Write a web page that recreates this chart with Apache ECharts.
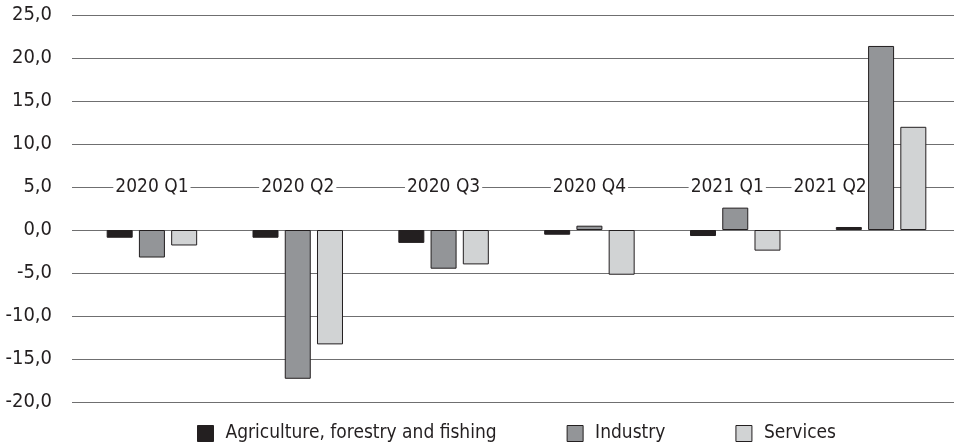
<!DOCTYPE html>
<html><head><meta charset="utf-8">
<script src="https://cdn.jsdelivr.net/npm/echarts@6/dist/echarts.min.js"></script>
<style>html,body{margin:0;padding:0;background:#fff}#c{width:954px;height:445px}</style>
</head><body><div id="c"></div>
<script>
const categories = ['2020 Q1','2020 Q2','2020 Q3','2020 Q4','2021 Q1','2021 Q2'];
const agriculture = [-0.9, -0.9, -1.5, -0.55, -0.7, 0.35];
const industry = [-3.2, -17.3, -4.5, 0.5, 2.6, 21.4];
const services = [-1.8, -13.3, -4.0, -5.2, -2.4, 12.0];
const seriesNames = ['Agriculture, forestry and fishing','Industry','Services'];
const yTicks = {min: -20, max: 25, interval: 5};
// leftward shift of category label (px) to avoid the bars, as in the original
const labelShift = [0, 0, 0, 0, 8, 51];

const FONT = '"DejaVu Sans Condensed","Liberation Sans",sans-serif';
const fmt = v => v.toFixed(1).replace('.', ',');
const chart = echarts.init(document.getElementById('c'));
const colors = ['#231f20','#939598','#d1d3d4'];
const mk = (name, data, i) => ({
  name, type: 'bar', data, xAxisIndex: 1, yAxisIndex: 1, z: 3,
  barWidth: 26, barGap: '24%',
  itemStyle: {color: colors[i], borderColor: '#231f20', borderWidth: 1},
  emphasis: {disabled: true}
});
const rich = {t: {fontSize: 19, color: '#231f20', fontFamily: FONT, backgroundColor: '#fff', padding: [1, 2]}};
labelShift.forEach((s, i) => { rich['s' + i] = {width: 2 * s, height: 1}; });
chart.setOption({
  animation: false,
  color: colors,
  textStyle: {fontFamily: FONT},
  grid: [
    {left: 72, right: 0, top: 15, bottom: 43},
    {left: 79, right: -3, top: 15, bottom: 43}
  ],
  xAxis: [
    {gridIndex: 0, type: 'category', data: categories, show: false},
    {gridIndex: 1, type: 'category', data: categories, z: 1,
     axisLine: {show: false}, axisTick: {show: false},
     axisLabel: {interval: 0, hideOverlap: false, margin: -215, verticalAlign: 'middle',
       fontSize: 19, fontFamily: FONT,
       formatter: (v, i) => labelShift[i] ? '{t|' + v + '}{s' + i + '|}' : '{t|' + v + '}',
       rich}}
  ],
  yAxis: [
    {gridIndex: 0, type: 'value', z: 0, min: yTicks.min, max: yTicks.max, interval: yTicks.interval,
     axisLine: {show: false}, axisTick: {show: false},
     axisLabel: {margin: 20, color: '#231f20', fontSize: 20, fontFamily: FONT, formatter: fmt},
     splitLine: {lineStyle: {color: '#6f6f70', width: 1.2}}},
    {gridIndex: 1, type: 'value', min: yTicks.min, max: yTicks.max, interval: yTicks.interval,
     show: false, splitLine: {show: false}}
  ],
  legend: {
    left: 197, top: 424, padding: 0, itemWidth: 16, itemHeight: 16, itemGap: 70,
    icon: 'rect',
    textStyle: {fontSize: 19, color: '#231f20', fontFamily: FONT, padding: [0,0,0,7]},
    itemStyle: {borderColor: '#231f20', borderWidth: 1}
  },
  series: [
    mk(seriesNames[0], agriculture, 0),
    mk(seriesNames[1], industry, 1),
    mk(seriesNames[2], services, 2)
  ]
});
</script></body></html>
